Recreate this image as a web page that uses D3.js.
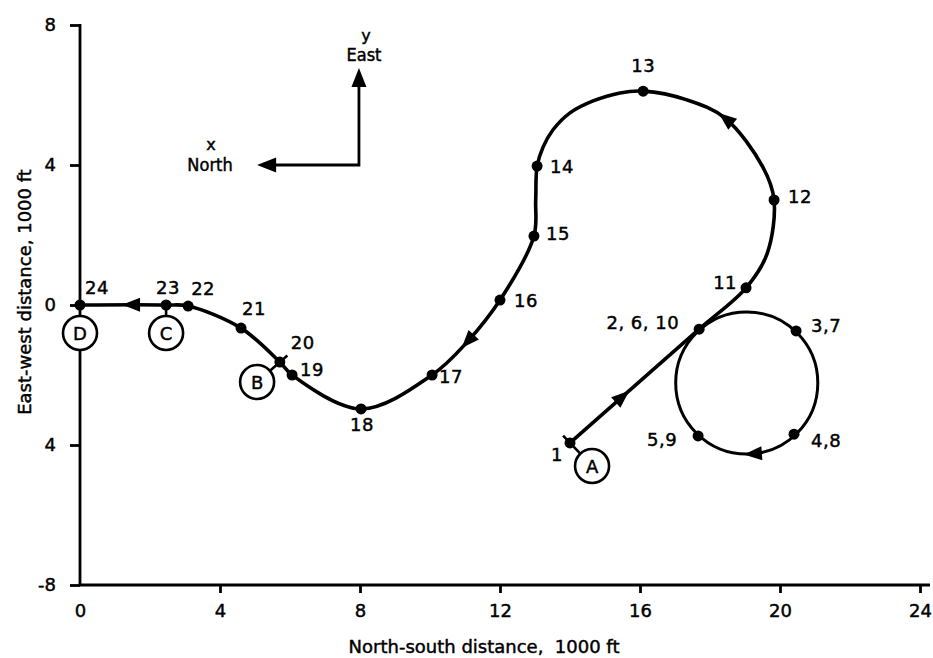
<!DOCTYPE html>
<html><head><meta charset="utf-8">
<script src="https://cdn.jsdelivr.net/npm/d3@7"></script>
<style>
html,body{margin:0;padding:0;background:#fff;}
svg{display:block;}
text{font-family:"DejaVu Sans",sans-serif;fill:#000;stroke:#000;stroke-width:0.45px;}
.title{font-size:18px;white-space:pre;}
.cond{font-family:"DejaVu Sans Condensed","DejaVu Sans",sans-serif;font-stretch:condensed;}
</style></head><body>
<svg id="chart" width="933" height="658"></svg>
<script>
// Axis ticks (thousands of feet)
const xTicks = [0, 4, 8, 12, 16, 20, 24];
const xTickLabels = ["0", "4", "8", "12", "16", "20", "24"];
const yTicks = [-8, -4, 0, 4, 8];
const yTickLabels = ["-8", "4", "0", "4", "8"];

// Numbered fixes along the ground track
const fixLabels = ["1", "2, 6, 10", "3,7", "4,8", "5,9", "11", "12", "13", "14", "15", "16", "17", "18", "19", "20", "21", "22", "23", "24"];
const fixX = [14.0, 17.69, 20.46, 20.4, 17.66, 19.03, 19.83, 16.09, 13.06, 12.97, 12.0, 10.06, 8.03, 6.06, 5.71, 4.6, 3.09, 2.46, 0];
const fixY = [-3.94, -0.69, -0.74, -3.69, -3.74, 0.49, 3.0, 6.11, 3.97, 1.97, 0.14, -2.0, -2.97, -2.0, -1.63, -0.66, -0.03, 0, 0];

// Ground track from fix 1 to fix 24 (the orbit loop is drawn separately)
const trackX = [14.0, 17.69, 19.03, 19.63, 19.83, 19.51, 18.43, 17.34, 16.09, 15.43, 14.66, 14.0, 13.51, 13.23, 13.06, 13.02, 12.97, 12.0, 11.06, 10.06, 8.03, 6.06, 5.71, 4.6, 3.09, 2.46, 0];
const trackY = [-3.94, -0.69, 0.49, 1.46, 3.0, 3.94, 5.34, 5.86, 6.11, 6.06, 5.83, 5.49, 5.0, 4.51, 3.97, 3.0, 1.97, 0.14, -1.06, -2.0, -2.97, -2.0, -1.63, -0.66, -0.03, 0, 0];

// Holding loop flown through fixes 2-10
const loopCenter = [19.05, -2.23];
const loopRadius = 2.03;

// Direction arrows along the track
const arrowX = [15.57, 19.2, 18.43, 11.06, 1.43];
const arrowY = [-2.66, -4.23, 5.34, -1.06, 0.0];
const arrowOnLoop = [false, true, false, false, false];

// Lettered events and the fix each refers to
const markLabels = ["A", "B", "C", "D"];
const markX = [14.63, 5.06, 2.46, 0];
const markY = [-4.6, -2.2, -0.8, -0.8];
const markFix = ["1", "20", "23", "24"];

// Compass axes
const compassOrigin = [7.97, 4.0];
const northTipX = 5.06;
const eastTipY = 6.77;

// ---- layout ----
const svg = d3.select("#chart");
const x = d3.scaleLinear().domain([0, 24]).range([80, 920]);
const y = d3.scaleLinear().domain([-8, 8]).range([585, 25]);

// label placement: [dx, dy, anchor] in pixels relative to each fix
const labelLayout = [
  [-7, 12, "end"], [-20, -7, "end"], [15, -5, "start"], [17, 6, "start"], [-21, 4, "end"],
  [-9, -5, "end"], [14, -3, "start"], [0, -26, "middle"], [13, 0, "start"], [12, -3, "start"],
  [14, 0, "start"], [7, 2, "start"], [1, 16, "middle"], [8, -5, "start"], [11, -20, "start"],
  [1, -20, "start"], [3, -18, "start"], [-10, -17, "start"], [5, -17, "start"]
];
const leaderExtend = [10, 10, 3, 0];

// axes
const yAxis = d3.axisLeft(y).tickValues(yTicks).tickSize(10).tickPadding(14)
  .tickFormat((d, i) => yTickLabels[i]).tickSizeOuter(0);
const gy = svg.append("g").attr("transform", `translate(${x(0)},0)`).call(yAxis);
gy.select(".domain").remove();
gy.selectAll(".tick line").attr("stroke", "#000").attr("stroke-width", 2.8);
gy.selectAll(".tick text").attr("font-size", 18).attr("font-family", "DejaVu Sans").attr("fill", "#000");

const xAxis = d3.axisBottom(x).tickValues(xTicks).tickSize(8).tickPadding(11)
  .tickFormat((d, i) => xTickLabels[i]).tickSizeOuter(0);
const gx = svg.append("g").attr("transform", `translate(0,${y(-8)})`).call(xAxis);
gx.select(".domain").remove();
gx.selectAll(".tick line").attr("stroke", "#000").attr("stroke-width", 2.8)
  .filter(d => d === 0).remove();
gx.selectAll(".tick text").attr("font-size", 18).attr("font-family", "DejaVu Sans").attr("fill", "#000");

svg.append("line").attr("x1", x(0)).attr("x2", x(0)).attr("y1", y(8) - 1).attr("y2", y(-8))
  .attr("stroke", "#000").attr("stroke-width", 2.8);
svg.append("line").attr("x1", x(0) - 1.4).attr("x2", x(24) + 10).attr("y1", y(-8)).attr("y2", y(-8))
  .attr("stroke", "#000").attr("stroke-width", 2.8);

// axis titles
svg.append("text").attr("class", "title").attr("x", 484).attr("y", 653)
  .attr("text-anchor", "middle").text("North-south distance,\u00a0\u00a01000 ft");
svg.append("text").attr("class", "title").attr("text-anchor", "middle")
  .attr("transform", "translate(31,292) rotate(-90)").text("East-west distance, 1000 ft");

// compass
function arrowHead(g, tipX, tipY, ux, uy, len, hw) {
  const bx = tipX - ux * len, by = tipY - uy * len;
  const nx = -uy, ny = ux;
  g.append("path")
    .attr("d", `M${tipX},${tipY}L${bx + nx * hw},${by + ny * hw}L${bx - nx * hw},${by - ny * hw}Z`)
    .attr("fill", "#000");
}
const cg = svg.append("g");
const ox = x(compassOrigin[0]), oy = y(compassOrigin[1]);
cg.append("path").attr("d", `M${x(northTipX) + 10},${oy}L${ox},${oy}L${ox},${y(eastTipY) + 10}`)
  .attr("fill", "none").attr("stroke", "#000").attr("stroke-width", 2.8);
arrowHead(cg, x(northTipX), oy, -1, 0, 19, 7.5);
arrowHead(cg, ox, y(eastTipY), 0, -1, 19, 7.5);
cg.append("text").attr("x", 211).attr("y", 150).attr("text-anchor", "middle").attr("font-size", 16).text("x");
cg.append("text").attr("x", 210).attr("y", 171).attr("text-anchor", "middle").attr("class", "cond").attr("font-size", 18).text("North");
cg.append("text").attr("x", 366).attr("y", 41).attr("text-anchor", "middle").attr("font-size", 16).text("y");
cg.append("text").attr("x", 364).attr("y", 61).attr("text-anchor", "middle").attr("class", "cond").attr("font-size", 18).text("East");

// ground track
const trackPts = trackX.map((v, i) => [x(v), y(trackY[i])]);
const trackPath = svg.append("path")
  .attr("d", d3.line().curve(d3.curveCatmullRom.alpha(0.5))(trackPts))
  .attr("fill", "none").attr("stroke", "#000").attr("stroke-width", 3.6);

// holding loop, flown clockwise on the map
const lp = d3.path();
const lcx = x(loopCenter[0]), lcy = y(loopCenter[1]), lr = x(loopRadius) - x(0);
lp.moveTo(lcx + lr, lcy);
lp.arc(lcx, lcy, lr, 0, 2 * Math.PI, false);
const loopPath = svg.append("path").attr("d", lp.toString())
  .attr("fill", "none").attr("stroke", "#000").attr("stroke-width", 3);

// direction arrows: placed on the nearest point of the drawn path, aligned with its tangent
function placeArrow(pathEl, px, py) {
  const L = pathEl.getTotalLength();
  let best = 0, bd = Infinity;
  for (let l = 0; l <= L; l += 0.5) {
    const p = pathEl.getPointAtLength(l);
    const d = (p.x - px) ** 2 + (p.y - py) ** 2;
    if (d < bd) { bd = d; best = l; }
  }
  const a = pathEl.getPointAtLength(Math.max(0, best - 4));
  const b = pathEl.getPointAtLength(Math.min(L, best + 4));
  const c = pathEl.getPointAtLength(best);
  let ux = b.x - a.x, uy = b.y - a.y;
  const n = Math.hypot(ux, uy); ux /= n; uy /= n;
  arrowHead(svg, c.x + ux * 8, c.y + uy * 8, ux, uy, 18, 7);
}
arrowX.forEach((v, i) => {
  placeArrow((arrowOnLoop[i] ? loopPath : trackPath).node(), x(v), y(arrowY[i]));
});

// lettered event markers with leader lines
markLabels.forEach((m, i) => {
  const k = fixLabels.indexOf(markFix[i]);
  const fx = x(fixX[k]), fy = y(fixY[k]);
  const cx = x(markX[i]), cy = y(markY[i]);
  let ux = fx - cx, uy = fy - cy;
  const n = Math.hypot(ux, uy); ux /= n; uy /= n;
  if (leaderExtend[i] > 0) {
    svg.append("line")
      .attr("x1", cx + ux * 16).attr("y1", cy + uy * 16)
      .attr("x2", fx + ux * leaderExtend[i]).attr("y2", fy + uy * leaderExtend[i])
      .attr("stroke", "#000").attr("stroke-width", 2.6);
  }
  svg.append("circle").attr("cx", cx).attr("cy", cy).attr("r", 17)
    .attr("fill", "#fff").attr("stroke", "#000").attr("stroke-width", 2.6);
  svg.append("text").attr("x", cx).attr("y", cy + 6.5).attr("text-anchor", "middle")
    .attr("font-size", 18).text(m);
});

// fixes and their numbers
fixLabels.forEach((lab, i) => {
  const px = x(fixX[i]), py = y(fixY[i]);
  svg.append("circle").attr("cx", px).attr("cy", py).attr("r", 5.5).attr("fill", "#000");
  const [dx, dy, anchor] = labelLayout[i];
  svg.append("text").attr("x", px + dx).attr("y", py + dy).attr("dy", "0.36em")
    .attr("text-anchor", anchor).attr("font-size", 18).style("letter-spacing", "0.5px").text(lab);
});
</script>
</body></html>
